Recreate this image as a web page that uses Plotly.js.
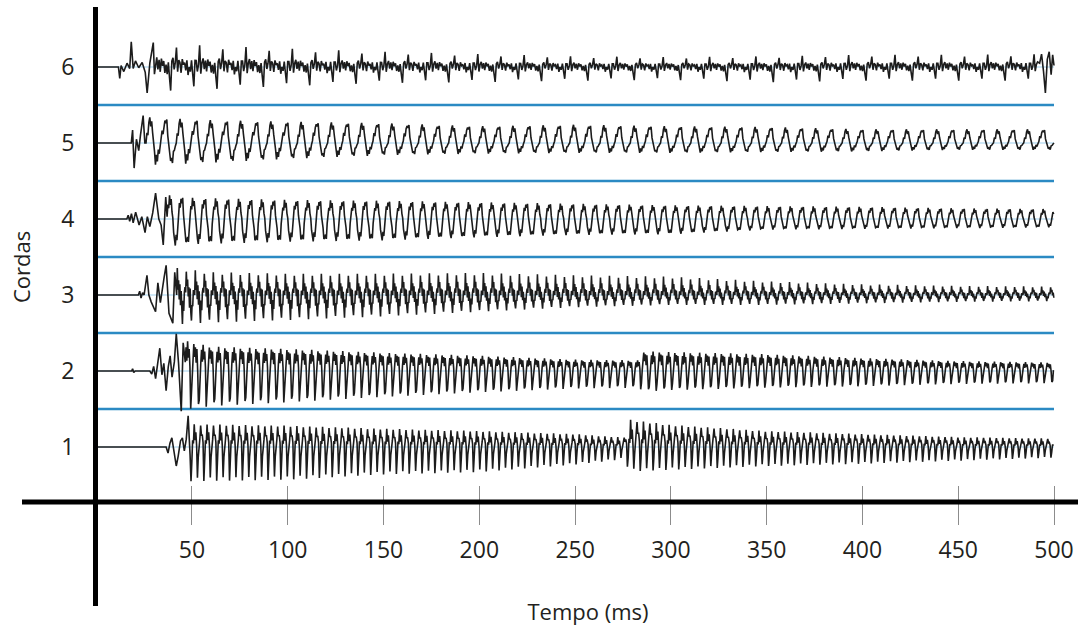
<!DOCTYPE html>
<html>
<head>
<meta charset="utf-8">
<script src="https://cdn.plot.ly/plotly-3.0.1.min.js"></script>
<style>
html,body{margin:0;padding:0;background:#ffffff;}
#chart{width:1078px;height:626px;}
</style>
</head>
<body>
<div id="chart"></div>
<script>
// ================= DATA =================
// Strings (Cordas) and their labels
const stringNumbers = [1, 2, 3, 4, 5, 6];
const stringLabels = ['1', '2', '3', '4', '5', '6'];
// Time ticks (ms)
const timeTicks = [50, 100, 150, 200, 250, 300, 350, 400, 450, 500];
const timeTickText = ['50', '100', '150', '200', '250', '300', '350', '400', '450', '500'];
// Separator levels between strings
const separatorLevels = [1.5, 2.5, 3.5, 4.5, 5.5];
const endTimeMs = 500;

// Onset transients: time (ms) and displacement (in string-spacing units)
const attackT1 = [0, 36.5, 37.5, 38.5, 39.5, 40.5, 41.8, 42.8, 44.0, 45.0, 46.0, 47.0, 48.0, 49.0];
const attackV1 = [0, 0, -0.08, 0.05, 0.12, -0.04, -0.25, -0.12, 0.08, 0.12, -0.05, 0.10, 0.41, -0.10];
const attackT2 = [0, 18.5, 19.0, 19.6, 20.3, 28.0, 29.0, 30.0, 31.0, 32.0, 33.2, 34.3, 35.3, 36.5, 37.6, 38.6, 39.6, 40.8, 41.8, 43.0, 44.4, 45.4];
const attackV2 = [0, 0, 0.03, -0.02, 0, 0, -0.04, 0.06, -0.10, 0.08, 0.30, -0.05, 0.10, -0.26, 0.05, 0.20, -0.08, 0.12, 0.49, 0.10, -0.53, 0.37];
const attackT3 = [0, 22.0, 22.7, 23.4, 24.2, 25.0, 26.5, 27.5, 28.7, 31.0, 32.2, 33.5, 35.5, 36.5, 38.0, 40.0, 41.0];
const attackV3 = [0, 0, 0.05, -0.04, 0.03, 0, 0.26, 0, -0.09, -0.22, 0.16, -0.10, 0.24, 0.39, -0.24, -0.37, 0.30];
const attackT4 = [0, 16.0, 16.7, 17.5, 18.4, 19.3, 20.6, 22.4, 23.8, 25.5, 26.7, 28.0, 29.5, 31.0, 32.7, 33.9, 35.0, 36.3];
const attackV4 = [0, 0, 0.05, -0.03, 0.07, -0.05, 0.09, -0.08, 0.03, -0.18, 0.03, -0.10, 0.08, 0.34, 0.0, -0.08, -0.34, 0.29];
const attackT5 = [0, 18.3, 19.0, 19.8, 21.0, 22.2, 23.1, 24.5, 25.4];
const attackV5 = [0, 0, 0.17, -0.33, 0.05, -0.10, 0.10, 0.36, 0.0];
const attackT6 = [0, 11.6, 12.3, 13.0, 14.4, 16.1, 17.5, 18.3, 19.3, 20.5, 22.2, 24.0, 25.6, 26.6, 28.0];
const attackV6 = [0, 0, -0.15, 0.02, -0.06, 0.05, -0.02, 0.33, -0.02, 0.08, -0.01, 0.06, -0.07, -0.34, 0.05];

// Closing transient of string 6 (ms, displacement)
const tailT6 = [492.5, 493.5, 494.5, 495.5, 496.5, 497.5, 498.5, 499.3, 500.0];
const tailV6 = [0.05, 0.17, -0.05, -0.34, 0.10, 0.20, -0.10, 0.16, 0.02];

// Oscillation period of each string (ms), counted from the picture
const periodMs = [3.35, 4.05, 4.7, 6.0, 7.9, 12.1];
// Time at which the regular oscillation starts / stops (ms)
const steadyStartMs = [49.5, 46.5, 42.0, 37.0, 26.0, 29.8];
const steadyStopMs = [500, 500, 500, 500, 500, 492.0];

// Envelopes: upper and lower peak size vs time
const envT1 = [50, 100, 150, 200, 250, 272, 276, 278, 300, 350, 400, 450, 500];
const envUp1 = [0.30, 0.28, 0.24, 0.21, 0.17, 0.13, 0.13, 0.36, 0.29, 0.21, 0.17, 0.13, 0.11];
const envDn1 = [0.45, 0.43, 0.36, 0.33, 0.23, 0.17, 0.15, 0.32, 0.30, 0.25, 0.22, 0.18, 0.14];
const envT2 = [48, 60, 100, 150, 200, 250, 283, 286, 300, 350, 400, 450, 500];
const envUp2 = [0.39, 0.32, 0.29, 0.24, 0.20, 0.15, 0.14, 0.26, 0.25, 0.22, 0.17, 0.13, 0.11];
const envDn2 = [0.50, 0.46, 0.41, 0.34, 0.28, 0.23, 0.22, 0.27, 0.25, 0.22, 0.20, 0.17, 0.16];
const envT3 = [38, 60, 100, 150, 200, 250, 300, 350, 400, 450, 500];
const envUp3 = [0.37, 0.30, 0.28, 0.28, 0.29, 0.26, 0.24, 0.18, 0.14, 0.12, 0.11];
const envDn3 = [0.39, 0.36, 0.33, 0.28, 0.22, 0.16, 0.13, 0.13, 0.11, 0.09, 0.08];
const envT4 = [32, 50, 100, 150, 200, 250, 300, 350, 400, 450, 500];
const envUp4 = [0.33, 0.28, 0.25, 0.24, 0.22, 0.20, 0.18, 0.17, 0.16, 0.14, 0.13];
const envDn4 = [0.37, 0.33, 0.30, 0.28, 0.24, 0.21, 0.20, 0.14, 0.13, 0.12, 0.11];
const envT5 = [25, 60, 100, 150, 200, 250, 300, 350, 400, 450, 500];
const envUp5 = [0.34, 0.30, 0.28, 0.26, 0.22, 0.24, 0.22, 0.21, 0.18, 0.18, 0.18];
const envDn5 = [0.29, 0.26, 0.21, 0.16, 0.14, 0.13, 0.13, 0.12, 0.11, 0.09, 0.09];
const envT6 = [18, 50, 100, 150, 200, 250, 300, 350, 400, 450, 500];
const envUp6 = [0.34, 0.29, 0.24, 0.20, 0.17, 0.14, 0.13, 0.14, 0.16, 0.16, 0.17];
const envDn6 = [0.33, 0.30, 0.25, 0.21, 0.20, 0.18, 0.17, 0.20, 0.18, 0.18, 0.18];

// Two typical consecutive periods of each string
// (+ values scaled by the upper envelope, - values by the lower envelope)
const cycle1A = [-1.0, -0.45, 0.3, 0.15, 1.0, 0.3, 0.65, 0.05];
const cycle1B = [-0.9, -0.3, 0.25, 0.35, 0.95, 0.5, 0.55, 0.2];
const cycle2A = [0.3, 0.8, 0.35, 1.0, 0.45, 0.75, 0.15, -1.0, -0.65, 0.05];
const cycle2B = [0.4, 0.95, 0.5, 0.85, 0.3, 0.8, 0.0, -0.9, -0.8, 0.1];
const cycle3A = [0.0, 1.0, 0.2, 0.55, -0.15, 0.4, -0.35, 0.15, -0.5, -1.0, -0.2, -0.55, 0.1, 0.3];
const cycle3B = [0.1, 0.9, 0.35, 0.6, -0.05, 0.3, -0.45, 0.25, -0.6, -0.9, -0.35, -0.4, 0.2, 0.15];
const cycle4A = [0.1, 0.6, 0.45, 1.0, 0.6, 0.85, 0.3, 0.05, -0.5, -0.8, -1.0, -0.6, -0.8, -0.35];
const cycle4B = [0.2, 0.7, 0.5, 0.9, 0.7, 0.95, 0.2, -0.1, -0.4, -0.9, -0.85, -0.7, -0.9, -0.2];
const cycle5A = [0.0, 0.4, 0.3, 0.8, 1.0, 0.65, 0.85, 0.4, 0.1, -0.4, -1.0, -0.55, -0.85, -0.3, -0.5, -0.1];
const cycle5B = [0.1, 0.5, 0.35, 0.75, 0.9, 0.8, 0.95, 0.3, 0.0, -0.5, -0.85, -0.7, -0.95, -0.4, -0.35, -0.15];
const cycle6A = [1.0, -0.3, 0.2, 0.4, -0.1, 0.3, -0.2, 0.35, 0.05, 0.25, -0.25, 0.1, -0.3, 0.2, -0.45, -1.0, 0.25, 0.4, -0.1, 0.2];
const cycle6B = [0.85, -0.2, 0.3, 0.2, -0.25, 0.35, 0.1, 0.2, -0.15, 0.3, -0.35, 0.0, -0.2, 0.3, -0.3, -0.85, 0.3, 0.3, -0.2, 0.1];

// ================= BUILD TRACES =================
const attackT = [attackT1, attackT2, attackT3, attackT4, attackT5, attackT6];
const attackV = [attackV1, attackV2, attackV3, attackV4, attackV5, attackV6];
const envT = [envT1, envT2, envT3, envT4, envT5, envT6];
const envUp = [envUp1, envUp2, envUp3, envUp4, envUp5, envUp6];
const envDn = [envDn1, envDn2, envDn3, envDn4, envDn5, envDn6];
const cyclesA = [cycle1A, cycle2A, cycle3A, cycle4A, cycle5A, cycle6A];
const cyclesB = [cycle1B, cycle2B, cycle3B, cycle4B, cycle5B, cycle6B];
const tailT = [[], [], [], [], [], tailT6];
const tailV = [[], [], [], [], [], tailV6];

function envAt(T, V, t) {
  if (t <= T[0]) return V[0];
  for (let i = 1; i < T.length; i++) {
    if (t <= T[i]) {
      const f = (t - T[i - 1]) / (T[i] - T[i - 1]);
      return V[i - 1] + f * (V[i] - V[i - 1]);
    }
  }
  return V[V.length - 1];
}

function buildString(i) {
  const level = stringNumbers[i];
  const x = [], y = [];
  attackT[i].forEach((t, k) => { x.push(t); y.push(level + attackV[i][k]); });
  const A = cyclesA[i], B = cyclesB[i];
  const nS = A.length;
  const dt = periodMs[i] / nS;
  for (let n = 0; ; n++) {
    const t = steadyStartMs[i] + n * dt;
    if (t > steadyStopMs[i]) break;
    const cyc = (Math.floor(n / nS) % 2 === 0) ? A : B;
    const c = cyc[n % nS];
    const a = c >= 0 ? envAt(envT[i], envUp[i], t) : envAt(envT[i], envDn[i], t);
    x.push(t); y.push(level + c * a);
  }
  tailT[i].forEach((t, k) => { x.push(t); y.push(level + tailV[i][k]); });
  return { x, y };
}

const traces = [];

// light blue centre lines of each string
{
  const x = [], y = [];
  stringNumbers.forEach(s => { x.push(0, endTimeMs, null); y.push(s, s, null); });
  traces.push({ type: 'scatter', mode: 'lines', x, y, hoverinfo: 'skip',
    line: { color: '#9fd0ee', width: 1 } });
}

// separators
{
  const x = [], y = [];
  separatorLevels.forEach(s => { x.push(0, endTimeMs, null); y.push(s, s, null); });
  traces.push({ type: 'scatter', mode: 'lines', x, y, hoverinfo: 'skip',
    line: { color: '#2b8ac3', width: 2.6 } });
}

// waveforms
stringNumbers.forEach((s, i) => {
  const w = buildString(i);
  traces.push({ type: 'scatter', mode: 'lines', x: w.x, y: w.y, name: 'Corda ' + s,
    line: { color: '#1c1c1c', width: 1.6 } });
});

// ================= LAYOUT =================
const W = 1078, H = 626;
const mL = 98, mR = 0, mT = 7, mB = 20;
const plotW = W - mL - mR, plotH = H - mT - mB;
const pxPerMs = 1.9156;       // horizontal scale measured from the ticks
const pxPerString = 76;       // vertical spacing between strings
const xMin = (mL - 96.2) / pxPerMs;
const yTop = 1 + (447 - mT) / pxPerString;
const yBot = 1 - (H - mB - 447) / pxPerString;
const crossY = 1 - (502 - 447) / pxPerString;   // level of the thick horizontal axis

const layout = {
  width: W, height: H,
  margin: { l: mL, r: mR, t: mT, b: mB, pad: 0 },
  paper_bgcolor: '#ffffff', plot_bgcolor: '#ffffff',
  showlegend: false,
  font: { family: '"Open Sans", "Noto Sans", sans-serif', color: '#231f20', size: 22 },
  xaxis: {
    range: [xMin, xMin + plotW / pxPerMs],
    anchor: 'free', position: 1 - (485 - mT) / plotH,
    tickmode: 'array', tickvals: timeTicks, ticktext: timeTickText,
    ticks: 'outside', ticklen: 39, tickwidth: 1, tickcolor: '#8c8c8c',
    showline: false, showgrid: false, zeroline: false,
    tickfont: { size: 23, color: '#231f20' }, ticklabelstandoff: 5,
    title: { text: 'Tempo (ms)', font: { size: 22, color: '#231f20' }, standoff: 41 }
  },
  yaxis: {
    range: [yBot, yTop],
    tickmode: 'array', tickvals: stringNumbers, ticktext: stringLabels,
    ticks: '', showline: true, linewidth: 5, linecolor: '#000000',
    showgrid: false, zeroline: false,
    tickfont: { size: 23, color: '#231f20' }, ticklabelstandoff: 14
  },
  shapes: [
    { type: 'line', xref: 'paper', yref: 'y', x0: (22 - mL) / plotW, x1: 1, y0: crossY, y1: crossY,
      line: { color: '#000000', width: 5 } }
  ],
  annotations: [
    { text: 'Cordas', textangle: -90, xref: 'paper', yref: 'paper',
      x: (21 - mL) / plotW, y: (H - mB - 267) / plotH, xanchor: 'center', yanchor: 'middle',
      showarrow: false, font: { size: 22, color: '#231f20' } }
  ]
};

Plotly.newPlot('chart', traces, layout, { staticPlot: true, displayModeBar: false });
</script>
</body>
</html>
